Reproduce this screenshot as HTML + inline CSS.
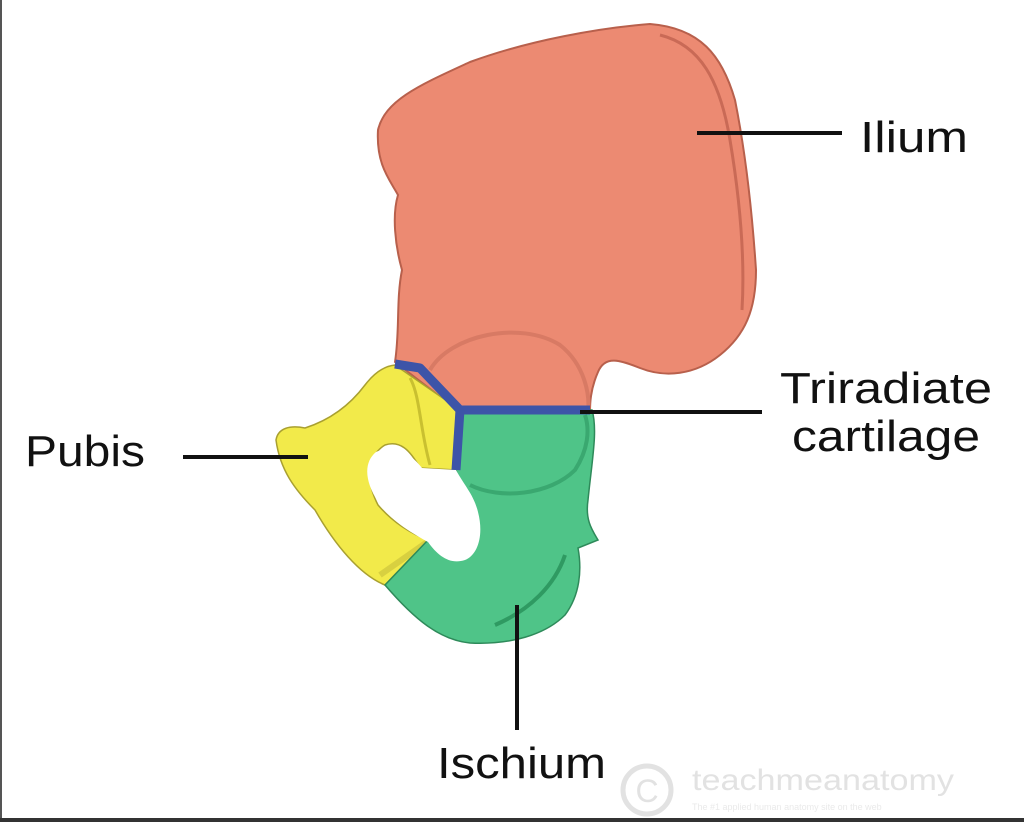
<!DOCTYPE html>
<html><head><style>
html,body{margin:0;padding:0;background:#fff}
body{width:1024px;height:822px;position:relative;overflow:hidden;font-family:"Liberation Sans",sans-serif}
</style></head><body>
<svg width="1024" height="822" viewBox="0 0 1024 822" xmlns="http://www.w3.org/2000/svg">
<rect x="0" y="0" width="1024" height="822" fill="#fff"/>
<rect x="0" y="0" width="2" height="822" fill="#555"/>
<rect x="0" y="818" width="1024" height="4" fill="#333"/>
<!-- Ilium -->
<path d="M395,362 C400,330 396,300 402,270 C395,245 392,215 398,195 C390,180 376,165 378,130 C385,100 420,85 470,62 C530,40 600,28 650,24 C700,28 722,55 735,100 C745,150 752,210 756,270 C756,310 745,335 720,355 C695,375 665,378 640,368 C620,360 605,355 598,372 C590,390 590,405 590,412 L460,412 Z" fill="#ec8a72" stroke="#b8604c" stroke-width="2"/>
<path d="M660,35 C700,45 720,80 730,140 C740,200 745,260 742,310" fill="none" stroke="#c96a56" stroke-width="3"/>
<path d="M430,370 C450,335 520,320 560,345 C585,365 590,395 588,412" fill="none" stroke="#d87a64" stroke-width="4"/>
<!-- Yellow pubis -->
<path d="M395,365 L460,410 L456,470 L420,468 C410,450 400,440 385,445 C368,455 365,480 378,505 C395,525 415,535 428,540 L385,585 C360,575 335,545 315,510 C295,490 280,470 276,440 C278,428 290,425 305,428 C330,420 350,405 365,385 C375,372 385,366 395,365 Z" fill="#f2ea4a" stroke="#a9a030" stroke-width="1.5"/>
<path d="M410,378 C420,395 420,430 430,465" fill="none" stroke="#c9c030" stroke-width="3"/>
<path d="M380,575 L430,540" stroke="#d8d040" stroke-width="6"/>
<!-- Green ischium -->
<path d="M460,410 L592,410 C598,430 592,460 588,500 C585,520 592,530 598,540 L578,548 C582,570 580,595 565,615 C545,635 510,645 470,643 C440,640 415,620 385,585 L428,540 C440,555 455,562 468,555 C478,540 480,518 472,502 C465,490 458,480 456,470 Z" fill="#4fc488" stroke="#2e8a5a" stroke-width="1.5"/>
<path d="M470,485 C500,500 550,495 575,470 C588,450 590,430 585,415" fill="none" stroke="#3aa870" stroke-width="4"/>
<path d="M495,625 C530,610 555,585 565,555" fill="none" stroke="#2f9a62" stroke-width="4"/>
<!-- obturator hole -->
<path d="M376,452 C392,444 410,452 422,468 L456,470 C464,485 474,495 478,512 C484,535 478,555 465,560 C450,565 438,556 428,542 C410,532 390,520 378,502 C364,480 364,462 376,452 Z" fill="#fff"/>
<!-- triradiate cartilage -->
<path d="M395,364 L420,368 L460,410 L590,410" fill="none" stroke="#3d54a8" stroke-width="9" stroke-linejoin="round"/>
<path d="M460,410 L456,470" fill="none" stroke="#3d54a8" stroke-width="9"/>
<!-- leader lines -->
<g stroke="#111" stroke-width="4">
<line x1="697" y1="133" x2="842" y2="133"/>
<line x1="580" y1="412" x2="762" y2="412"/>
<line x1="183" y1="457" x2="308" y2="457"/>
<line x1="517" y1="605" x2="517" y2="730"/>
</g>
<g font-family="Liberation Sans, sans-serif" font-size="44" fill="#111">
<text x="860" y="152" textLength="108" lengthAdjust="spacingAndGlyphs">Ilium</text>
<text x="780" y="403" textLength="212" lengthAdjust="spacingAndGlyphs">Triradiate</text>
<text x="792" y="451" textLength="188" lengthAdjust="spacingAndGlyphs">cartilage</text>
<text x="25" y="466" textLength="120" lengthAdjust="spacingAndGlyphs">Pubis</text>
<text x="437" y="778" textLength="169" lengthAdjust="spacingAndGlyphs">Ischium</text>
</g>
<circle cx="647" cy="790" r="24" fill="none" stroke="#e2e2e2" stroke-width="5"/>
<text x="647" y="802" font-size="32" text-anchor="middle" fill="#e2e2e2" font-family="Liberation Sans, sans-serif">C</text>
<text x="692" y="790" font-size="30" fill="#e2e2e2" font-family="Liberation Sans, sans-serif" textLength="262" lengthAdjust="spacingAndGlyphs">teachmeanatomy</text>
<text x="692" y="810" font-size="9" fill="#eaeaea" font-family="Liberation Sans, sans-serif">The #1 applied human anatomy site on the web</text>
</svg>
</body></html>
